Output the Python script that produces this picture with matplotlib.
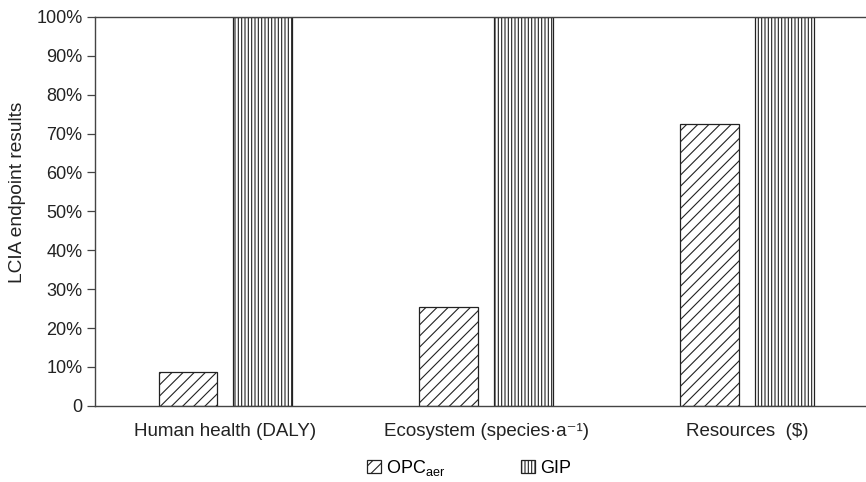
import matplotlib
matplotlib.use("Agg")
import matplotlib.pyplot as plt
import numpy as np

plt.rcParams['font.family'] = ['Liberation Sans', 'DejaVu Sans']
plt.rcParams['mathtext.fontset'] = 'custom'
plt.rcParams['mathtext.rm'] = 'Liberation Sans'
plt.rcParams['mathtext.it'] = 'Liberation Sans:italic'
plt.rcParams['hatch.linewidth'] = 0.8
plt.rcParams['hatch.color'] = '#333333'

categories = ['Human health (DALY)', 'Ecosystem (species\u00b7a\u207b\u00b9)', 'Resources  ($)']
opc_values = [8.8, 25.3, 72.5]
gip_values = [100, 100, 100]
series_names = [r'OPC$_{\mathrm{aer}}$', 'GIP']

FS = 13
fig = plt.figure(figsize=(8.66, 4.82), dpi=100)
ax = fig.add_axes([0.1097, 0.158, 0.8903, 0.807])

x = np.arange(len(categories))
w = 0.226
off = 0.1435
b1 = ax.bar(x - off, opc_values, w, facecolor='white', edgecolor='#222222', linewidth=0.9,
            hatch='///', label=series_names[0])
b2 = ax.bar(x + off, gip_values, w, facecolor='white', edgecolor='#222222', linewidth=0.9,
            hatch='|||||', label=series_names[1])

ax.set_xlim(-0.5, 2.456)
ax.set_ylim(0, 100)
ax.set_yticks(np.arange(0, 101, 10))
ax.set_yticklabels(['0'] + [f'{v}%' for v in range(10, 101, 10)])
ax.set_xticks(x)
ax.set_xticklabels(categories, fontsize=13.5)
ax.tick_params(axis='x', length=0, pad=12, colors='#222222')
ax.tick_params(axis='y', length=6, width=0.9, labelsize=FS, direction='out', pad=3,
               colors='#222222', color='#444444')
ax.set_ylabel('LCIA endpoint results', fontsize=13.8, color='#222222')
ax.yaxis.set_label_coords(-0.089, 0.55)

for s in ['top', 'left', 'bottom']:
    ax.spines[s].set_color('#444444')
    ax.spines[s].set_linewidth(1.0)
ax.spines['right'].set_visible(False)

fig.legend(handles=[b1, b2], loc='center', bbox_to_anchor=(0.542, 0.03), ncol=2,
           frameon=False, fontsize=FS, handlelength=0.75, handleheight=0.75,
           handletextpad=0.3, columnspacing=4.2)

fig.savefig('out.png', dpi=100)
